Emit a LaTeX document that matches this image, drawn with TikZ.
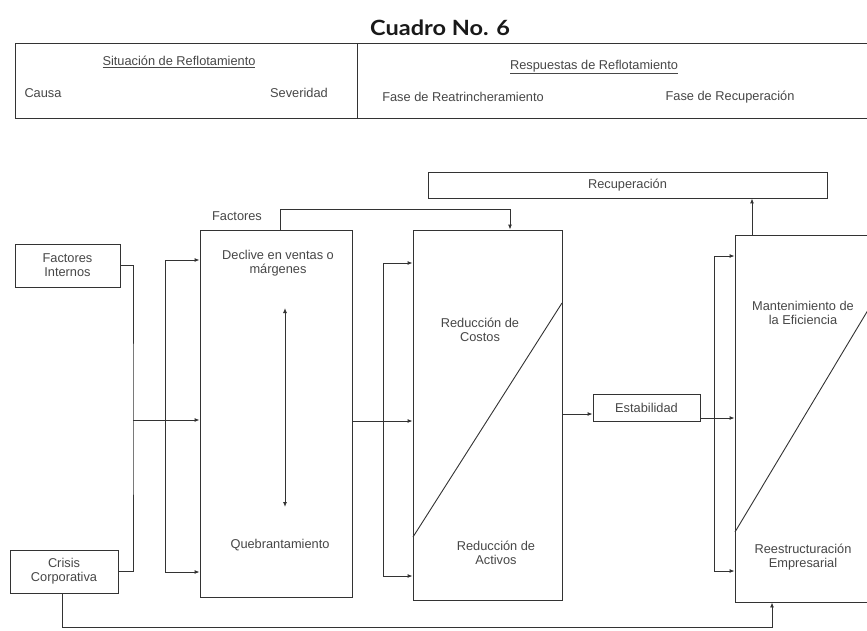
\documentclass[tikz,border=0pt]{standalone}
\usepackage{fontspec}
\setmainfont{Liberation Sans}
\newfontfamily\titlefont{Lato}
\usetikzlibrary{arrows.meta}
\tikzset{
  ln/.style={draw=black!80, line width=0.9pt},
  arr/.style={ln, -{Latex[length=5pt,width=4pt]}},
  darr/.style={ln, {Latex[length=5pt,width=4pt]}-{Latex[length=5pt,width=4pt]}},
  txt/.style={font=\fontsize{12.8}{14}\selectfont, text=black!72, align=center, inner sep=0pt},
  hbox/.style={ln, inner sep=0pt}
}
\begin{document}
\begin{tikzpicture}[x=1pt,y=-1pt]
\useasboundingbox (0,0) rectangle (867,631);
\clip (0,0) rectangle (867,631);
\fill[white] (0,0) rectangle (867,631);

% title
\node[font=\titlefont\bfseries\fontsize{21}{23}\selectfont, text=black!90] (title) at (440,28) {\scalebox{1.12}[1]{Cuadro No. 6}};

% header
\node[hbox, minimum width=342pt, minimum height=75pt] (hl) at (186,80.5) {};
\node[hbox, minimum width=520pt, minimum height=75pt] (hr) at (617,80.5) {};
\node[txt] (sit) at (179,62) {\underline{Situación de Reflotamiento}};
\node[txt] (causa) at (43,93) {Causa};
\node[txt] (sev) at (299,93) {Severidad};
\node[txt] (resp) at (594,67) {\underline{Respuestas de Reflotamiento}};
\node[txt] (fr) at (463,97) {Fase de Reatrincheramiento};
\node[txt] (fre) at (730,97) {Fase de Recuperación};

% boxes
\node[ln, inner sep=0pt, minimum width=105pt, minimum height=43pt, txt] (fi) at (67.5,265.5) {Factores\\Internos};
\node[ln, inner sep=0pt, minimum width=108pt, minimum height=43pt, txt] (cc) at (64,571.5) {Crisis\\Corporativa};
\node[ln, inner sep=0pt, minimum width=152pt, minimum height=367pt] (b1) at (276,413.5) {};
\node[ln, inner sep=0pt, minimum width=149pt, minimum height=370pt] (b2) at (487.5,415) {};
\node[ln, inner sep=0pt, minimum width=399pt, minimum height=26pt, txt] (rec) at (627.5,185) {Recuperación};
\node[ln, inner sep=0pt, minimum width=107pt, minimum height=27pt, txt] (est) at (646.5,407.5) {Estabilidad};
\node[ln, inner sep=0pt, minimum width=145pt, minimum height=367pt] (b3) at (807.5,418.5) {};

% diagonals
\coordinate (d2a) at (413,537);
\coordinate (d2b) at (562,303);
\draw[ln] (d2a) -- (d2b);
\coordinate (d3a) at (735,532);
\coordinate (d3b) at (880,290);
\draw[ln] (d3a) -- (d3b);

% texts inside big boxes
\node[txt] (fact) at (237,216) {Factores};
\node[txt] (decl) at (278,263) {Declive en ventas o\\márgenes};
\node[txt] (queb) at (280,545) {Quebrantamiento};
\node[txt] (rcos) at (480,330) {Reducción de\\Costos};
\node[txt] (ract) at (496,553) {Reducción de\\Activos};
\node[txt] (mant) at (803,313) {Mantenimiento de\\la Eficiencia};
\node[txt] (rees) at (803,557) {Reestructuración\\Empresarial};

% double arrow in b1
\coordinate (da) at (285,308);
\coordinate (db) at (285,507);
\draw[darr] (da) -- (db);

% connectors left
\coordinate (j1) at (133,420);
\draw[ln] (fi.east) -| (j1) |- (cc.east);
\draw[arr] (j1) -- (j1 -| b1.west);
\coordinate (v1t) at (165,260);
\coordinate (v1b) at (165,572);
\draw[darr] (v1t -| b1.west) -- (v1t) -- (v1b) -- (v1b -| b1.west);

% b1 -> b2
\coordinate (j2) at (383,421);
\draw[arr] (j2 -| b1.east) -- (j2 -| b2.west);
\coordinate (v2t) at (383,263);
\coordinate (v2b) at (383,576);
\draw[darr] (v2t -| b2.west) -- (v2t) -- (v2b) -- (v2b -| b2.west);

% top connector
\coordinate (t1) at (280,209);
\coordinate (t2) at (510,209);
\draw[arr] (t1 |- b1.north) -- (t1) -- (t2) -- (t2 |- b2.north);

% b2 -> est -> b3
\coordinate (e1) at (562,414);
\draw[arr] (e1 -| b2.east) -- (e1 -| est.west);
\coordinate (e2) at (700,418);
\draw[arr] (e2 -| est.east) -- (e2 -| b3.west);
\coordinate (v3t) at (714,256);
\coordinate (v3b) at (714,571);
\draw[darr] (v3t -| b3.west) -- (v3t) -- (v3b) -- (v3b -| b3.west);

% b3 -> rec
\coordinate (u1) at (752,200);
\draw[arr] (u1 |- b3.north) -- (u1 |- rec.south);

% bottom loop
\coordinate (w1) at (62,627);
\coordinate (w2) at (772,627);
\draw[arr] (w1 |- cc.south) -- (w1) -- (w2) -- (w2 |- b3.south);
\end{tikzpicture}
\end{document}
